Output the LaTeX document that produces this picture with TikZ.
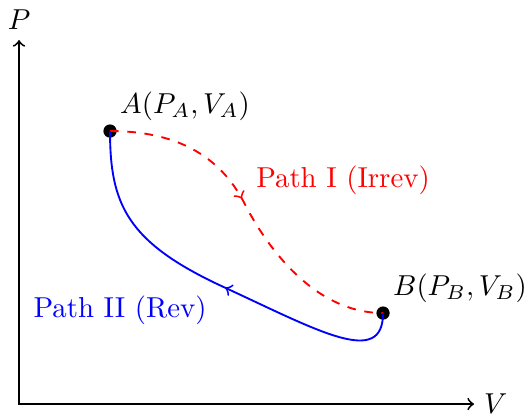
\documentclass[tikz,border=0pt]{standalone}
\usetikzlibrary{decorations.markings}
\begin{document}
\begin{tikzpicture}[x=1.11cm,y=1.11cm,
  axis/.style={line width=0.65pt,<->},
  dot/.style={circle,fill=black,inner sep=0pt,minimum size=4.6pt},
  irrev/.style={red,line width=0.65pt,dashed,postaction={decorate},
    decoration={markings,mark=at position 0.45 with {\arrow{>}}}},
  rev/.style={blue,line width=0.65pt,postaction={decorate},
    decoration={markings,mark=at position 0.47 with {\arrow{>}}}}
]
\useasboundingbox (-0.209,-0.099) rectangle (5.56,4.44);
\coordinate (O) at (0,0);
\coordinate (Xend) at (5,0);
\coordinate (Yend) at (0,4);
\draw[axis] (Yend) -- (O) -- (Xend);
\node[right] (Vlab) at (Xend) {$V$};
\node[above] (Plab) at (Yend) {$P$};

\node[dot] (A) at (1,3) {};
\node[dot] (B) at (4,1) {};
\coordinate (M1) at (2.48,2.2);
\coordinate (M2) at (2.24,1.29);

\draw[irrev] (A.center) .. controls (1.7,3) and (2.2,2.75) .. (M1)
  .. controls (2.676,1.815) and (3.2,1) .. (B.center);
\draw[rev] (B.center) .. controls (4,0.4) and (3.3,0.8) .. (M2)
  .. controls (1.18,1.78) and (1,2.2) .. (A.center);

\node[above right] (Alab) at (A.center) {$A(P_A,V_A)$};
\node[above right] (Blab) at (B.center) {$B(P_B,V_B)$};
\node[red] (L1) at (3.56,2.46) {Path I (Irrev)};
\node[blue] (L2) at (1.11,1.03) {Path II (Rev)};
\end{tikzpicture}
\end{document}
